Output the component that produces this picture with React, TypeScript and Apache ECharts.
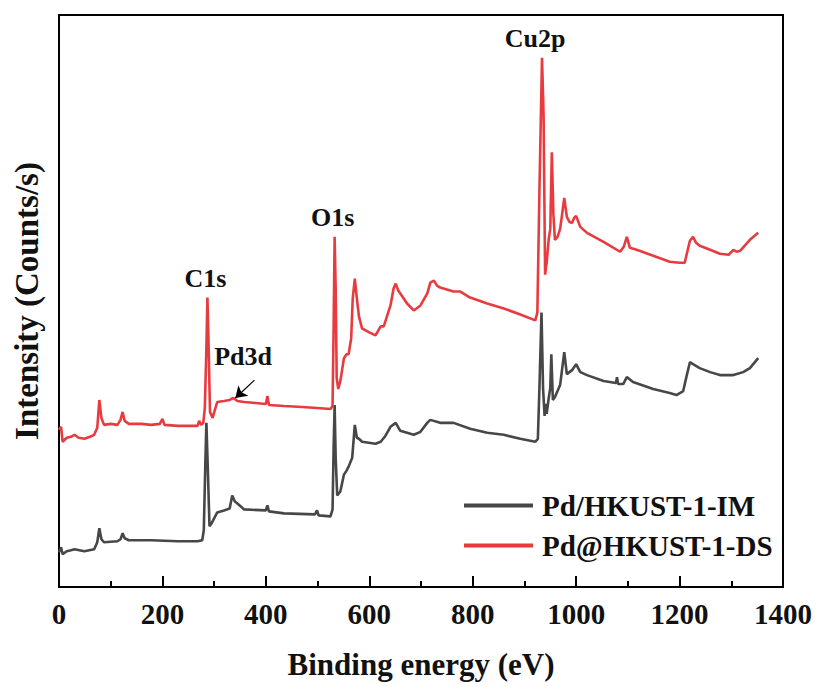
import React, { useEffect, useRef } from "react";
import * as echarts from "echarts";

// Pd@HKUST-1-DS (red)
const dsEnergy = [0,4,7,15,23,30,38,49,60,68,74,78,82,87,100,113,119,123,127,135,160,178,195,200,204,230,268,271,275,279,282,285,287,289,292,297,306,319,330,337,345,358,380,400,403,406,435,470,499,525,529,531,533,535,537,540,544,551,556,560,565,568,572,576,580,586,600,612,622,628,641,647,651,656,660,673,686,699,712,718,725,731,737,763,776,795,828,860,892,921,925,929,934,937,940,943,947,950,953,956,959,964,969,973,977,982,987,992,996,1000,1008,1021,1053,1085,1092,1098,1104,1117,1149,1181,1200,1210,1214,1220,1226,1232,1239,1259,1278,1295,1304,1310,1317,1336,1352];
const dsIntensity = [158,161,146,150,151,153,150,149,151,153,160,188,170,163,164,163,168,176,167,164,164,163,164,169,163,162,162,167,163,165,180,240,291,250,176,170,186,187,188,190,187,186,185,184,192,183,182,181,180,179,182,260,352,300,210,199,207,230,234,234,250,290,310,290,272,260,256,253,262,262,283,300,305,298,295,285,278,283,295,306,308,303,301,297,297,291,285,280,274,268,276,398,532,475,314,326,350,360,437,375,349,352,360,375,391,372,367,366,371,373,362,356,347,337,342,352,341,339,333,327,326,326,335,348,352,346,343,339,335,334,339,337,338,349,356];

// Pd/HKUST-1-IM (dark grey)
const imEnergy = [0,4,7,15,23,30,49,68,74,78,82,87,113,119,123,127,135,178,230,268,277,280,283,285,288,291,295,306,319,330,335,340,345,358,400,403,406,435,495,499,502,525,529,531,533,535,538,544,551,556,560,567,572,576,580,586,612,622,630,641,651,660,673,686,699,712,718,737,763,795,828,860,892,921,926,929,933,936,939,941,943,947,950,952,955,959,969,977,982,992,1000,1008,1021,1053,1077,1079,1081,1091,1098,1110,1149,1181,1194,1207,1214,1220,1226,1239,1259,1278,1304,1323,1336,1352];
const imIntensity = [35,40,33,36,37,38,36,38,45,59,48,45,46,48,54,49,47,47,46,46,47,57,125,165,115,61,64,75,77,79,92,86,84,78,77,82,76,74,73,77,72,71,78,140,183,130,92,96,113,117,121,130,163,150,149,146,144,146,151,161,165,157,155,153,156,165,168,165,165,159,155,153,149,146,149,200,276,200,172,184,174,190,200,234,188,191,203,236,214,218,224,216,213,207,205,211,204,204,211,206,199,195,193,197,213,226,224,220,216,213,213,216,220,230];

const seriesNames = ["Pd/HKUST-1-IM", "Pd@HKUST-1-DS"];
const xTicks = [0, 200, 400, 600, 800, 1000, 1200, 1400];

// peak annotations (anchored on the red curve)
const peakNames = ["C1s", "O1s", "Cu2p", "Pd3d"];
const peakEnergy = [287, 533, 934, 356];
const peakIntensity = [291, 352, 532, 212];
const peakOffsetX = [-2, -2, -7, 0];

// Pd3d arrow (tail -> head)
const arrowTail = [378, 208];
const arrowHead = [341, 190];

const FONT = "'Liberation Serif', 'Times New Roman', serif";

const zip = (a: number[], b: number[]) => a.map((v, i) => [v, b[i]]);

export default function App() {
  const ref = useRef<HTMLDivElement>(null);
  useEffect(() => {
    if (!ref.current) return;
    const chart = echarts.init(ref.current, null, { renderer: "svg" });
    chart.setOption({
      animation: false,
      backgroundColor: "#ffffff",
      grid: {
        left: 59,
        right: 36,
        top: 15,
        bottom: 100,
        show: true,
        borderColor: "#000",
        borderWidth: 2,
        backgroundColor: "transparent",
      },
      legend: {
        orient: "vertical",
        left: 459,
        top: 486,
        icon: "rect",
        itemWidth: 69,
        itemHeight: 4,
        itemGap: 11,
        data: seriesNames,
        textStyle: {
          fontFamily: FONT,
          fontWeight: "bold",
          fontSize: 29,
          color: "#111",
          padding: [0, 0, 0, 4],
        },
      },
      xAxis: {
        type: "value",
        min: 0,
        max: 1400,
        interval: 200,
        name: "Binding energy (eV)",
        nameLocation: "middle",
        nameGap: 62,
        nameTextStyle: { fontFamily: FONT, fontWeight: "bold", fontSize: 31, color: "#111" },
        axisLine: { show: true, onZero: false, lineStyle: { color: "#000", width: 2 } },
        axisTick: { show: true, inside: true, length: 11, lineStyle: { color: "#000", width: 2 } },
        minorTick: { show: true, splitNumber: 2, length: 6, lineStyle: { color: "#000", width: 2 } },
        splitLine: { show: false },
        axisLabel: {
          fontFamily: FONT,
          fontWeight: "bold",
          fontSize: 29,
          color: "#111",
          margin: 12,
          formatter: (v: number) => (xTicks.includes(v) ? String(v) : ""),
        },
      },
      yAxis: {
        type: "value",
        min: 0,
        max: 575,
        name: "Intensity (Counts/s)",
        nameLocation: "middle",
        nameGap: 16,
        nameTextStyle: { fontFamily: FONT, fontWeight: "bold", fontSize: 33, color: "#111" },
        axisLine: { show: true, lineStyle: { color: "#000", width: 2 } },
        axisTick: { show: false },
        axisLabel: { show: false },
        splitLine: { show: false },
      },
      series: [
        {
          name: seriesNames[0],
          type: "line",
          data: zip(imEnergy, imIntensity),
          symbol: "none",
          color: "#474747",
          lineStyle: { color: "#474747", width: 2.6 },
        },
        {
          name: seriesNames[1],
          type: "line",
          data: zip(dsEnergy, dsIntensity),
          symbol: "none",
          color: "#e83b40",
          lineStyle: { color: "#e83b40", width: 2.6 },
          markPoint: {
            symbol: "circle",
            symbolSize: 1,
            itemStyle: { color: "rgba(0,0,0,0)" },
            data: peakNames.map((n, i) => ({
              name: n,
              coord: [peakEnergy[i], peakIntensity[i]],
              label: {
                show: true,
                position: "top",
                distance: 6,
                offset: [peakOffsetX[i], 0],
                formatter: n,
                fontFamily: FONT,
                fontWeight: "bold",
                fontSize: 26,
                color: "#111",
              },
            })),
          },
          markLine: {
            silent: true,
            symbol: ["none", "arrow"],
            symbolSize: 11,
            label: { show: false },
            lineStyle: { color: "#000", width: 1.2, type: "solid" },
            data: [[{ coord: arrowTail }, { coord: arrowHead }]],
          },
        },
      ],
    });
    return () => chart.dispose();
  }, []);
  return (
    <div
      ref={ref}
      style={{ position: "fixed", left: 0, top: 0, width: 819, height: 687 }}
    />
  );
}
